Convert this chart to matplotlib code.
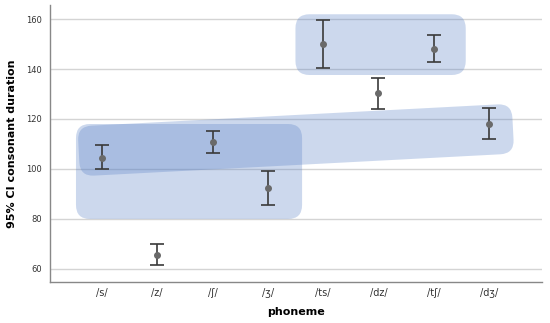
import numpy as np
import matplotlib.pyplot as plt
from matplotlib.patches import FancyBboxPatch
from matplotlib.transforms import Affine2D

# 95% CI of consonant duration per phoneme
phonemes = ['/s/', '/z/', '/ʃ/', '/ʒ/', '/ts/', '/dz/', '/tʃ/', '/dʒ/']
means = [104.5, 65.5, 110.9, 92.3, 150.0, 130.3, 148.1, 118.0]
ci_low = [99.8, 61.5, 106.5, 85.5, 140.3, 124.0, 142.7, 111.9]
ci_high = [109.5, 70.0, 115.2, 99.2, 159.7, 136.4, 153.7, 124.3]

# highlight boxes: (x0, x1, y0, y1, rotation in deg)
boxes = [
    (0.53, 4.62, 80.0, 118.0, 0),
    (4.50, 7.58, 137.6, 161.9, 0),
    (0.575, 8.44, 101.6, 121.6, 3.0),
]

fig = plt.figure(figsize=(5.5, 3.23), dpi=100)
ax = fig.add_axes([0.0909, 0.127, 0.8946, 0.8575])

x = np.arange(1, len(phonemes) + 1)
ax.set_xlim(0.06, 8.96)
ax.set_ylim(54.8, 165.6)

# grid
for yv in [60, 80, 100, 120, 140, 160]:
    ax.axhline(yv, color='#d4d4d4', lw=1.0, zorder=0)

fig.canvas.draw()
px_x = ax.transData.transform((1, 0))[0] - ax.transData.transform((0, 0))[0]
px_y = ax.transData.transform((0, 1))[1] - ax.transData.transform((0, 0))[1]
aspect = px_x / px_y

for x0, x1, y0, y1, rot in boxes:
    r = 14 / px_x
    p = FancyBboxPatch((x0 + r, y0 + r * aspect), (x1 - x0) - 2 * r, (y1 - y0) - 2 * r * aspect,
                       boxstyle='round,pad=%f' % r, mutation_aspect=aspect,
                       facecolor='#5880c6', alpha=0.3, edgecolor='none', zorder=1)
    if rot:
        cx, cy = ax.transData.transform(((x0 + x1) / 2, (y0 + y1) / 2))
        p.set_transform(ax.transData + Affine2D().rotate_deg_around(cx, cy, rot))
    ax.add_patch(p)

means = np.array(means)
err = [means - np.array(ci_low), np.array(ci_high) - means]
ax.errorbar(x, means, yerr=err, fmt='o', color='#6a6a6a', ms=4,
            ecolor='#3a3a3a', elinewidth=1.2, capsize=5, capthick=1.2, zorder=3)

ax.set_xticks(x)
ax.set_xticklabels(phonemes, fontsize=7, color='#333333')
ax.set_yticks([60, 80, 100, 120, 140, 160])
ax.tick_params(axis='y', labelsize=6, colors='#333333', length=0, pad=6)
ax.tick_params(axis='x', length=0, pad=4.5)

for s in ['top', 'right']:
    ax.spines[s].set_visible(False)
for s in ['left', 'bottom']:
    ax.spines[s].set_color('#888888')
    ax.spines[s].set_linewidth(1.0)

ax.set_ylabel('95% CI consonant duration', fontsize=8, fontweight='bold', labelpad=6)
ax.set_xlabel('phoneme', fontsize=8, fontweight='bold', labelpad=6)

fig.savefig('out.png', dpi=100)
